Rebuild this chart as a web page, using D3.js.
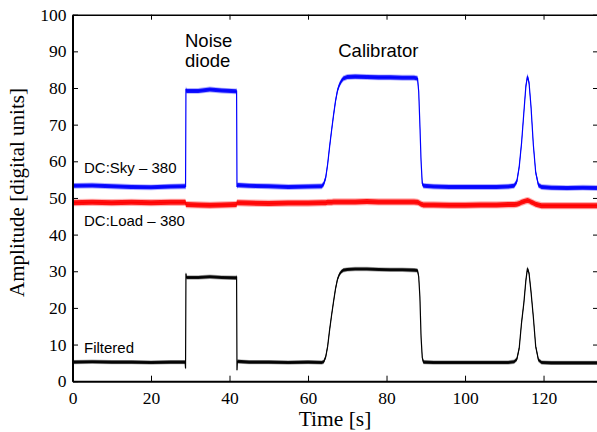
<!DOCTYPE html>
<html>
<head>
<meta charset="utf-8">
<script src="https://cdn.jsdelivr.net/npm/d3@7"></script>
<style>
  html, body { margin: 0; padding: 0; background: #fff; }
  svg { display: block; }
</style>
</head>
<body>
<svg id="chart" width="597" height="432"></svg>
<script>
// Sample times in seconds (denser around the switching edges and the peak)
const time = [
  0, 5, 10, 15, 20, 25, 28.7, 28.8, 28.9, 29.0, 32, 35, 38, 41.7, 41.8, 41.9, 42.0,
  45, 50, 55, 60, 63.5, 64.0, 64.5, 65.0, 65.5, 66.0, 66.5, 67.0, 67.5, 68.0, 68.5, 69.0,
  70, 72, 75, 78, 81, 84, 87, 87.9, 88.2, 88.5, 88.8, 89.1, 89.4,
  92, 96, 100, 104, 108, 111, 112.5, 113.2, 113.8, 114.4, 115.0, 115.5, 115.9, 116.3,
  116.8, 117.4, 118.0, 118.7, 119.5, 122, 126, 130, 134
];

// Sky detector output, DC offset of 380 removed
const skyMinus380 = [
  53.3, 53.4, 53.2, 53.0, 52.9, 53.1, 53.2, 53.0, 79.8, 79.2, 79.2, 79.6, 79.3, 79.1, 79.3, 53.0, 53.5,
  53.3, 53.2, 53.0, 53.1, 53.2, 53.8, 55.5, 59.2, 64.0, 68.4, 72.6, 76.4, 79.3, 80.9, 81.9, 82.6,
  83.0, 83.1, 83.0, 82.9, 82.9, 82.8, 82.8, 82.6, 79.0, 70.0, 60.0, 54.0, 53.3,
  53.1, 53.0, 53.0, 53.0, 53.0, 53.1, 53.3, 54.5, 58.5, 65.0, 73.5, 80.5, 83.2, 81.5,
  75.0, 64.5, 57.0, 53.5, 53.0, 52.8, 52.7, 52.8, 52.7
];

// Load detector output, DC offset of 380 removed
const loadMinus380 = [
  48.7, 48.8, 48.7, 48.8, 48.7, 48.8, 48.8, 48.7, 48.3, 48.2, 48.1, 48.0, 48.1, 48.2, 48.3, 48.6, 48.7,
  48.6, 48.5, 48.6, 48.6, 48.7, 48.7, 48.7, 48.8, 48.8, 48.8, 48.9, 48.9, 48.9, 48.9, 48.9, 48.9,
  48.9, 48.9, 49.0, 48.9, 48.9, 48.9, 48.9, 48.8, 48.7, 48.5, 48.3, 48.2, 48.1,
  48.1, 48.0, 48.0, 48.1, 48.1, 48.2, 48.2, 48.3, 48.5, 48.8, 49.0, 49.2, 49.3, 49.2,
  48.9, 48.6, 48.3, 48.1, 47.9, 47.9, 47.9, 47.9, 47.9
];

// Sky minus load after filtering
const filtered = [
  5.2, 5.3, 5.2, 5.2, 5.1, 5.2, 5.2, 3.5, 29.4, 28.3, 28.3, 28.5, 28.3, 28.2, 28.6, 3.0, 5.4,
  5.2, 5.2, 5.1, 5.2, 5.1, 5.3, 6.6, 9.5, 14.0, 18.0, 21.7, 25.2, 27.8, 29.2, 29.9, 30.3,
  30.5, 30.6, 30.6, 30.5, 30.4, 30.4, 30.3, 30.2, 28.5, 23.0, 12.0, 6.5, 5.2,
  5.1, 5.1, 5.1, 5.1, 5.1, 5.1, 5.3, 6.0, 9.0, 16.0, 21.5, 27.5, 30.8, 29.5,
  24.5, 17.5, 9.5, 5.8, 5.1, 5.0, 5.0, 5.0, 5.0
];

// Approximate half-width of the detector noise band (digital units)
const skyNoise = 0.55;
const loadNoise = 0.68;
const filteredNoise = 0.42;

const xTicks = [0, 20, 40, 60, 80, 100, 120];
const yTicks = [0, 10, 20, 30, 40, 50, 60, 70, 80, 90, 100];

(function draw() {
  const svg = d3.select("#chart");
  const plotLeft = 72.5, plotRight = 598.5, plotTop = 14.7, plotBottom = 381.2;

  const x = d3.scaleLinear().domain([0, 134]).range([plotLeft, plotRight]);
  const y = d3.scaleLinear().domain([0, 100]).range([plotBottom, plotTop]);

  const traces = [
    { values: skyMinus380, noise: skyNoise, color: "#0000ff" },
    { values: loadMinus380, noise: loadNoise, color: "#ff0000" },
    { values: filtered, noise: filteredNoise, color: "#000000" }
  ];

  const plot = svg.append("g");

  traces.forEach(tr => {
    const pts = time.map((t, i) => ({ t, v: tr.values[i] }));
    const band = k => d3.area()
      .x(d => x(d.t))
      .y0(d => y(d.v - tr.noise * k))
      .y1(d => y(d.v + tr.noise * k));
    const line = d3.line()
      .x(d => x(d.t))
      .y(d => y(d.v));
    // faint outer fringe of the noise spikes, then the dense core
    plot.append("path")
      .datum(pts)
      .attr("d", band(1.45))
      .attr("fill", tr.color)
      .attr("fill-opacity", 0.3);
    plot.append("path")
      .datum(pts)
      .attr("d", band(1))
      .attr("fill", tr.color)
      .attr("fill-opacity", 0.9);
    plot.append("path")
      .datum(pts)
      .attr("d", line)
      .attr("fill", "none")
      .attr("stroke", tr.color)
      .attr("stroke-width", 1.2);
  });

  // Axes: ticks point inward on all four sides
  const serif = "'Liberation Serif', 'Times New Roman', serif";

  function styleAxis(g, width) {
    g.select(".domain").attr("stroke", "#000").attr("stroke-width", width);
    g.selectAll(".tick line").attr("stroke", "#000").attr("stroke-width", 1);
    g.selectAll(".tick text")
      .attr("fill", "#000")
      .style("font-family", serif)
      .style("font-size", "17.5px");
  }

  svg.append("g")
    .attr("transform", `translate(0,${plotBottom})`)
    .call(d3.axisBottom(x).tickValues(xTicks).tickFormat(d3.format("d"))
      .tickSizeInner(-5.5).tickSizeOuter(0).tickPadding(10))
    .call(g => styleAxis(g, 2));

  svg.append("g")
    .attr("transform", `translate(0,${plotTop})`)
    .call(d3.axisTop(x).tickValues(xTicks).tickFormat("")
      .tickSizeInner(-5).tickSizeOuter(0))
    .call(g => styleAxis(g, 1.5));

  svg.append("g")
    .attr("transform", `translate(${plotLeft},0)`)
    .call(d3.axisLeft(y).tickValues(yTicks).tickFormat(d3.format("d"))
      .tickSizeInner(-5.5).tickSizeOuter(0).tickPadding(6))
    .call(g => styleAxis(g, 2));

  svg.append("g")
    .attr("transform", `translate(${plotRight},0)`)
    .call(d3.axisRight(y).tickValues(yTicks).tickFormat("")
      .tickSizeInner(-5.5).tickSizeOuter(0))
    .call(g => styleAxis(g, 1.5));

  // Axis titles
  svg.append("text")
    .attr("x", (plotLeft + plotRight) / 2 - 0.5)
    .attr("y", 425.5)
    .attr("text-anchor", "middle")
    .style("font-family", serif)
    .style("font-size", "21.5px")
    .text("Time [s]");

  svg.append("text")
    .attr("transform", `translate(23.5,192.5) rotate(-90)`)
    .attr("text-anchor", "middle")
    .style("font-family", serif)
    .style("font-size", "21px")
    .text("Amplitude [digital units]");

  // Trace and event annotations
  const sans = "'Liberation Sans', Arial, Helvetica, sans-serif";
  function note(t, v, txt, size) {
    svg.append("text")
      .attr("x", x(t))
      .attr("y", y(v))
      .style("font-family", sans)
      .style("font-size", size + "px")
      .attr("fill", "#000")
      .text(txt);
  }
  note(28.66, 91.3, "Noise", 18.5);
  note(28.66, 85.8, "diode", 18.5);
  note(67.7, 88.4, "Calibrator", 18.5);
  note(2.93, 56.7, "DC:Sky \u2013 380", 15);
  note(2.93, 42.3, "DC:Load \u2013 380", 15);
  note(2.93, 7.6, "Filtered", 15);
})();
</script>
</body>
</html>
